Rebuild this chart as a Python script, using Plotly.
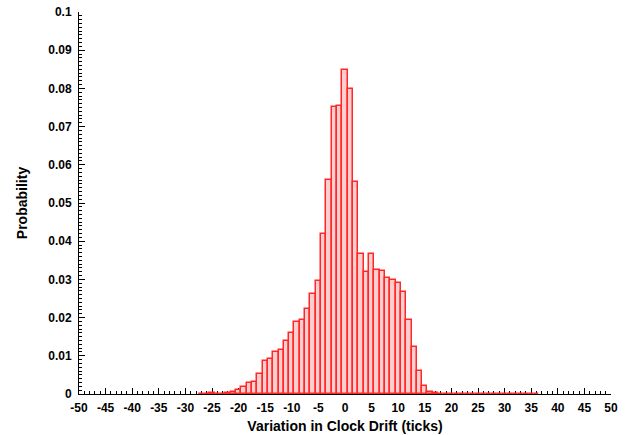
import plotly.graph_objects as go

drift = list(range(-27, 37))
prob = [0.0001, 0.0001, 0.0003, 0.0001, 0.0001, 0.0002, 0.0004,   # -27..-21
        0.0011, 0.0018, 0.0028, 0.0032, 0.0053, 0.0087, 0.0091,   # -20..-14
        0.0111, 0.0114, 0.0139, 0.0159, 0.0189, 0.0195, 0.0222,   # -13..-7
        0.0262, 0.0297, 0.0420, 0.0561, 0.0751, 0.0755, 0.0848,   # -6..0
        0.0798, 0.0554, 0.0366, 0.0319, 0.0366, 0.0325, 0.0323,   # 1..7
        0.0304, 0.0298, 0.0291, 0.0266, 0.0194, 0.0124, 0.0061,   # 8..14
        0.0020, 0.0004, 0.0002] + [0.0001] * 19                   # 15..36

x_ticks = list(range(-50, 51, 5))
x_tick_labels = [str(v) for v in x_ticks]
y_ticks = [i / 100 for i in range(0, 11)]
y_tick_labels = ["0", "0.01", "0.02", "0.03", "0.04", "0.05", "0.06", "0.07", "0.08", "0.09", "0.1"]

fig = go.Figure(go.Bar(
    x=drift, y=prob, width=1,
    marker=dict(color="rgb(255,206,206)", line=dict(color="rgb(255,40,40)", width=1.5)),
))

tickfont = dict(family="Liberation Sans", size=12, color="black", weight="bold")
titlefont = dict(family="Liberation Sans", size=14, color="black", weight="bold")

fig.update_layout(
    width=640, height=435,
    margin=dict(l=79, r=29, t=12, b=41),
    paper_bgcolor="white", plot_bgcolor="white",
    bargap=0, showlegend=False,
    xaxis=dict(
        range=[-50, 50], tickvals=x_ticks, ticktext=x_tick_labels,
        ticks="inside", ticklen=6, tickcolor="black", tickwidth=1,
        showline=True, linecolor="black", linewidth=1,
        showgrid=False, zeroline=False, tickfont=tickfont,
        automargin=False, layer="below traces", ticklabelstandoff=3,
        minor=dict(dtick=1, tick0=0, ticks="inside", ticklen=3, tickcolor="black", showgrid=False),
        title=dict(text="Variation in Clock Drift (ticks)", font=titlefont, standoff=6),
    ),
    yaxis=dict(
        range=[0, 0.1], tickvals=y_ticks, ticktext=y_tick_labels,
        ticks="inside", ticklen=6, tickcolor="black", tickwidth=1,
        showline=True, linecolor="black", linewidth=1,
        showgrid=False, zeroline=False, tickfont=tickfont,
        automargin=False, layer="below traces", ticklabelstandoff=4,
        minor=dict(dtick=0.001, tick0=0, ticks="inside", ticklen=3, tickcolor="black", showgrid=False),
        title=dict(text="Probability", font=titlefont, standoff=17),
    ),
)

fig.write_html("out.html", config={"displayModeBar": False},
               post_script="document.body.style.margin='0';")
